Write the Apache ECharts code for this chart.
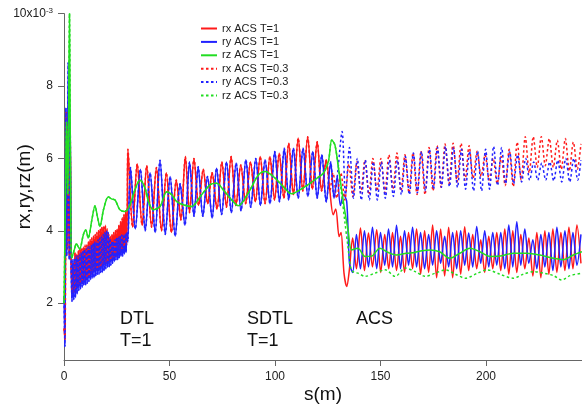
<!DOCTYPE html>
<html><head><meta charset="utf-8">
<script src="https://cdn.jsdelivr.net/npm/echarts@6/dist/echarts.min.js"></script>
<style>html,body{margin:0;padding:0;background:#fff}#c{width:582px;height:412px}</style>
</head><body><div id="c"></div>
<script>
// values in units of 1e-3 m
const xTicks = [0, 50, 100, 150, 200];
const yTicks = [2, 4, 6, 8, 10];
const names = ['rx ACS T=1', 'ry ACS T=1', 'rz ACS T=1', 'rx ACS T=0.3', 'ry ACS T=0.3', 'rz ACS T=0.3'];

const rxSpike = [[0,1.3],[0.5,1.0],[1.0,7.3],[1.5,3.5],[2.0,7.0],[2.5,3.3],[3.0,6.5],[3.4,3.0]];
const rxDTL = [[3.6,3.0],[4.0,2.3],[4.4,3.1],[4.8,2.3],[5.2,3.4],[5.6,2.4],[6.0,3.35],[6.4,2.45],[6.8,3.45],[7.2,2.5],[7.6,3.5],[8.0,2.55],[8.4,3.5],[8.8,2.6],[9.2,3.55],[9.6,2.65],[10.0,3.6],[10.4,2.7],[10.8,3.6],[11.2,2.7],[11.6,3.7],[12.0,2.75],[12.4,3.75],[12.8,2.8],[13.2,3.8],[13.6,2.85],[14.0,3.85],[14.4,2.9],[14.8,3.9],[15.2,2.9],[15.6,3.95],[16.0,2.95],[16.4,4.0],[16.8,3.0],[17.2,4.05],[17.6,3.0],[18.0,4.1],[18.4,3.05],[18.8,4.12],[19.2,3.1],[19.6,4.15],[20.0,3.1],[20.4,4.05],[20.8,3.15],[21.2,3.9],[21.6,3.15],[22.0,3.85],[22.4,3.2],[22.8,3.9],[23.2,3.25],[23.6,3.95],[24.0,3.3],[24.4,4.0],[24.8,3.3],[25.2,4.05],[25.6,3.35],[26.0,4.15],[26.4,3.4],[26.8,4.25],[27.2,3.45],[27.6,4.35],[28.0,3.5],[28.4,4.45],[28.8,3.55],[29.2,4.55],[29.6,3.6],[30.0,4.7]];
const rxSDTL = [[30.3,6.25],[32.5,4.1],[34.7,5.85],[37,4.15],[39.2,5.8],[41.5,4.1],[43.8,5.75],[46.2,4.0],[48.5,5.6],[50.9,3.95],[53.2,5.4],[55.4,4.3],[57.5,6.05],[59.5,4.5],[61.6,6.0],[63.8,4.7],[66,5.7],[68.1,4.75],[70.2,5.6],[72.5,4.6],[74.8,5.9],[77,4.65],[79.2,6.05],[81.5,4.7],[83.8,5.82],[86.1,4.75],[88.4,5.9],[90.7,4.8],[93,6.05],[95.3,4.75],[97.6,6.05],[99.8,4.85],[102,6.14],[104.2,4.9],[106.5,6.42],[108.7,5.0],[111,6.56],[113.2,5.1],[115.5,6.6],[117.7,5.15],[120,6.46],[122.1,5.1],[124.3,5.96],[126,5.1]];
const rxDrop = [[127.6,4.44],[128.8,4.6],[130.4,3.84],[131.3,3.95],[132.7,2.83],[134,2.46],[135.2,2.9]];
const rxACS = [[136.8,3.8],[138.6,2.95],[140.5,4.08],[142.4,2.9],[144.3,3.94],[146.2,3.0],[148.2,4.03],[150.1,2.85],[152,3.9],[153.9,2.95],[155.7,3.95],[157.6,2.9],[159.5,3.85],[161.4,2.85],[163.3,3.95],[165.2,2.95],[167.1,4.05],[169,2.8],[170.9,4.0],[172.8,2.85],[174.7,4.16],[176.6,2.7],[178.5,4.05],[180.4,2.75],[182.3,4.1],[184.2,2.7],[186.1,4.0],[188,2.8],[189.9,4.11],[191.8,2.9],[193.7,3.9],[195.6,2.95],[197.5,3.75],[199.4,2.85],[201.3,3.85],[203.2,2.95],[205.1,3.95],[207,2.9],[208.9,4.05],[210.8,2.8],[212.7,4.0],[214.6,2.85],[216.5,3.9],[218.4,2.95],[220.3,3.8],[222.2,2.75],[224.1,3.95],[226,2.7],[227.9,4.0],[229.8,2.8],[231.7,4.05],[233.6,2.85],[235.5,3.95],[237.4,2.9],[239.3,4.1],[241.2,2.95],[243.1,4.16],[245,3.1]];
const rxACS03 = [[127.5,5.6],[129.3,4.9],[131.2,5.6],[133.1,4.85],[135,5.85],[136.9,4.95],[138.8,5.9],[140.7,5.05],[142.6,5.95],[144.5,5.0],[146.4,6.0],[148.3,5.1],[150.2,6.0],[152.1,5.05],[154,6.1],[155.9,5.15],[157.8,6.15],[159.7,5.1],[161.6,6.1],[163.5,5.05],[165.4,6.15],[167.3,5.0],[169.2,6.2],[171.1,5.0],[173,6.3],[174.9,5.1],[176.8,6.35],[178.7,5.2],[180.6,6.4],[182.5,5.3],[184.4,6.42],[186.3,5.35],[188.2,6.42],[190.1,5.4],[192,6.35],[193.9,5.45],[195.8,6.2],[197.7,5.5],[199.6,6.1],[201.5,5.4],[203.4,6.0],[205.3,5.3],[207.2,6.05],[209.1,5.25],[211,6.25],[212.9,5.22],[214.8,6.45],[216.7,5.4],[218.6,6.6],[220.5,5.6],[222.4,6.6],[224.3,5.75],[226.2,6.6],[228.1,5.8],[230,6.55],[231.9,5.75],[233.8,6.5],[235.7,5.7],[237.6,6.55],[239.5,5.65],[241.4,6.45],[243.3,5.7],[245,6.4]];

const rySpike = [[0,2.2],[0.4,0.8],[0.9,7.4],[1.3,3.3],[2.0,8.65],[2.5,3.2],[2.9,7.0],[3.4,3.0]];
const ryDTL = [[3.8,2.05],[4.2,3.2],[4.6,2.1],[5.0,3.25],[5.4,2.15],[5.8,3.3],[6.2,2.25],[6.6,3.3],[7.0,2.35],[7.4,3.35],[7.8,2.4],[8.2,3.4],[8.6,2.45],[9.0,3.45],[9.4,2.5],[9.8,3.5],[10.2,2.5],[10.6,3.5],[11.0,2.55],[11.4,3.55],[11.8,2.6],[12.2,3.55],[12.6,2.65],[13.0,3.6],[13.4,2.7],[13.8,3.65],[14.2,2.7],[14.6,3.7],[15.0,2.75],[15.4,3.7],[15.8,2.8],[16.2,3.75],[16.6,2.8],[17.0,3.8],[17.4,2.85],[17.8,3.85],[18.2,2.85],[18.6,3.9],[19.0,2.9],[19.4,3.95],[19.8,2.95],[20.2,4.0],[20.6,3.0],[21.0,3.95],[21.4,3.0],[21.8,3.8],[22.2,3.05],[22.6,3.7],[23.0,3.1],[23.4,3.72],[23.8,3.15],[24.2,3.75],[24.6,3.2],[25.0,3.8],[25.4,3.2],[25.8,3.82],[26.2,3.25],[26.6,3.86],[27.0,3.3],[27.4,3.88],[27.8,3.3],[28.2,3.9],[28.6,3.35],[29.0,3.92],[29.4,3.4],[29.8,3.95]];
const rySDTL = [[30.2,3.7],[31.5,5.75],[33.8,4.05],[36.2,5.7],[38.5,4.0],[40.8,5.6],[43.2,3.95],[45.5,5.95],[48,3.9],[50.3,5.5],[52.7,3.85],[55,5.3],[57.3,4.15],[59.5,5.9],[61.6,4.4],[63.6,5.77],[65.8,4.4],[68,5.5],[70.2,4.35],[72.3,5.73],[74.7,4.45],[77,5.9],[79.3,4.5],[81.6,5.87],[83.9,4.55],[86.2,5.96],[88.5,4.65],[90.9,6.0],[93.1,4.7],[95.3,5.96],[97.6,4.75],[99.9,6.19],[102.1,4.8],[104.4,6.28],[106.5,4.85],[108.7,6.28],[111,4.9],[113.3,6.28],[115.6,4.95],[117.9,6.19],[120,4.9],[122.2,6.1],[124.3,4.8],[126.4,5.9],[128,4.9],[129.5,5.5]];
const ryDrop = [[131,4.7],[132.5,5.0],[134,4.8],[135.3,3.1]];
const ryACS = [[136.8,2.85],[138.6,3.9],[140.5,2.95],[142.4,4.0],[144.3,3.0],[146.2,4.1],[148.2,2.95],[150,3.95],[152,3.05],[153.8,4.05],[155.7,3.0],[157.6,4.15],[159.5,2.95],[161.4,4.0],[163.3,3.05],[165.2,4.1],[167.1,3.0],[169,3.95],[170.9,2.95],[172.8,3.9],[174.7,3.05],[176.6,4.0],[178.5,3.1],[180.4,3.85],[182.3,3.0],[184.2,3.95],[186.1,2.95],[188,4.0],[189.9,3.05],[191.8,3.94],[193.7,3.0],[195.6,4.12],[197.5,3.1],[199.4,4.0],[201.3,3.0],[203.2,3.95],[205.1,3.05],[207,3.95],[208.9,2.95],[210.8,4.16],[212.7,3.0],[214.6,4.25],[216.5,3.05],[218.4,4.05],[220.3,3.1],[222.2,3.75],[224.1,2.95],[226,3.9],[227.9,3.0],[229.8,3.95],[231.7,2.9],[233.6,4.1],[235.5,3.0],[237.4,4.0],[239.3,2.95],[241.2,3.95],[243.1,3.05],[245,3.9]];
const ryACS03 = [[131.8,6.74],[133.4,5.0],[135.3,6.3],[137.2,4.9],[139,6.0],[140.9,4.85],[142.8,5.96],[144.7,4.85],[146.6,5.9],[148.5,4.85],[150.4,5.9],[152.3,4.9],[154.2,5.95],[156.1,4.95],[158,5.95],[159.9,5.0],[161.8,6.05],[163.7,5.0],[165.6,6.15],[167.5,5.05],[169.4,6.19],[171.3,5.1],[173.2,6.25],[175.1,5.15],[177,6.3],[178.9,5.2],[180.8,6.33],[182.7,5.22],[184.6,6.3],[186.5,5.2],[188.4,6.25],[190.3,5.15],[192.2,6.2],[194.1,5.1],[196,6.2],[197.9,5.1],[199.8,6.25],[201.7,5.15],[203.6,6.33],[205.5,5.25],[207.4,6.3],[209.3,5.3],[211.2,6.2],[213.1,5.3],[215,6.1],[216.9,5.35],[218.8,6.0],[220.7,5.4],[222.6,5.9],[224.5,5.4],[226.4,5.87],[228.3,5.4],[230.2,5.9],[232.1,5.38],[234,5.95],[235.9,5.35],[237.8,6.0],[239.7,5.35],[241.6,6.0],[243.5,5.4],[245,5.95]];

const rzMain = [[0,2.0],[0.6,4.5],[1.2,7.0],[1.8,5.0],[2.6,10.0],[3.1,5.5],[3.65,3.24],[5.0,3.5],[5.8,3.64],[7.4,3.5],[9.2,3.9],[10.3,4.02],[11.5,3.8],[13.2,4.3],[14.7,4.69],[15.8,4.4],[17,4.12],[18.8,4.6],[21,4.94],[22.5,4.88],[24.2,4.85],[26.5,4.58],[28.9,4.53],[31.3,4.72],[33.6,5.13],[36,5.4],[38.4,5.18],[40,4.81],[42.3,4.58],[45.5,4.67],[48.7,5.08],[51,5.0],[53.4,4.81],[56.5,4.72],[60.5,4.67],[64.5,4.94],[69.2,5.27],[72.4,5.31],[75.5,5.13],[79.5,4.85],[82.6,4.69],[87.3,5.04],[92.1,5.54],[95.3,5.64],[99.2,5.5],[103.9,5.22],[107.9,5.02],[111.8,5.13],[116.6,5.31],[119.8,5.45],[122.9,5.59],[125.3,5.91],[126.9,6.51],[128.4,6.37],[130,5.77]];
const rzACS = [[131.6,5.13],[133.2,4.5],[134.7,4.0],[136.3,3.47],[139.3,3.52],[142.7,3.29],[145.8,3.3],[149.7,3.52],[153.7,3.4],[157.6,3.33],[162.3,3.38],[166.2,3.4],[169.7,3.45],[173.5,3.47],[178,3.42],[182.9,3.24],[187.6,3.38],[192.4,3.52],[197.1,3.42],[201.9,3.29],[206.6,3.3],[212.9,3.38],[219.3,3.38],[225.6,3.33],[231.9,3.24],[236.6,3.2],[241.4,3.33],[245.5,3.42]];
const rzACS03 = [[131.6,5.0],[133,4.3],[134.5,3.6],[136,2.95],[137.5,2.85],[139.3,2.83],[142.7,2.74],[147.4,2.83],[152.2,2.92],[157,2.74],[161.7,2.97],[166.5,2.87],[171.3,2.74],[176,2.83],[180.8,2.92],[185.5,2.8],[190.3,2.69],[196,2.83],[200.7,2.92],[206.6,2.8],[212.9,2.69],[217.7,2.8],[222.4,2.87],[227.2,2.83],[232,2.76],[235.9,2.64],[239.8,2.76],[245.5,2.83]];

const rxT1 = [].concat(rxSpike, rxDTL, rxSDTL, rxDrop, rxACS);
const ryT1 = [].concat(rySpike, ryDTL, rySDTL, ryDrop, ryACS);
const rzT1 = [].concat(rzMain, rzACS);
const rxT03 = [].concat(rxSpike, rxDTL, rxSDTL, rxACS03);
const ryT03 = [].concat(rySpike, ryDTL, rySDTL, ryACS03);
const rzT03 = [].concat(rzMain, rzACS03);

const RED = '#ff1a1a', BLUE = '#2222ff', GREEN = '#22dd22';
const FONT = '"Liberation Sans", Helvetica, Arial, sans-serif';

function line(name, data, color, dashed, z) {
  return {
    name, type: 'line', data, z, symbol: 'none', smooth: 0.3, clip: true,
    lineStyle: { color, width: 1.5, type: dashed ? [2.5, 2.5] : 'solid' },
    itemStyle: { color }
  };
}

const chart = echarts.init(document.getElementById('c'));
chart.setOption({
  animation: false,
  textStyle: { fontFamily: FONT },
  grid: { left: 64, right: 0, top: 13.6, bottom: 52, containLabel: false, outerBoundsMode: 'none' },
  xAxis: {
    type: 'value', min: 0, max: 245.5,
    name: 's(m)', nameLocation: 'middle', nameGap: 25, nameMoveOverlap: false,
    nameTextStyle: { fontSize: 19, color: '#111', fontFamily: FONT },
    axisLine: { lineStyle: { color: '#666', width: 1 } },
    axisTick: { customValues: xTicks, length: 6, lineStyle: { color: '#666' } },
    axisLabel: { customValues: xTicks, margin: 11, fontSize: 12, color: '#222', fontFamily: FONT },
    splitLine: { show: false }
  },
  yAxis: {
    type: 'value', min: 0.43, max: 10,
    name: 'rx,ry,rz(m)', nameLocation: 'middle', nameGap: 30, nameMoveOverlap: false,
    nameTextStyle: { fontSize: 19, color: '#111', fontFamily: FONT },
    axisLine: { show: true, lineStyle: { color: '#666', width: 1 } },
    axisTick: { show: true, customValues: yTicks, length: 6, lineStyle: { color: '#666' } },
    axisLabel: {
      customValues: yTicks, margin: 11, fontSize: 12, color: '#222', fontFamily: FONT,
      formatter: v => v === 10 ? '{a|10x10}{b|-3}' : String(v),
      rich: {
        a: { fontSize: 12, color: '#222', fontFamily: FONT, lineHeight: 14 },
        b: { fontSize: 8, color: '#222', fontFamily: FONT, lineHeight: 8, verticalAlign: 'top' }
      }
    },
    splitLine: { show: false }
  },
  legend: {
    data: names, orient: 'vertical', left: 200, top: 23, padding: 0,
    itemWidth: 16, itemHeight: 0.5, itemGap: 2.4,
    itemStyle: { opacity: 0 },
    textStyle: { fontSize: 11, color: '#222', fontFamily: FONT }
  },
  graphic: [
    { type: 'text', left: 120, top: 308, style: { text: 'DTL\nT=1', font: '18px ' + FONT, fill: '#111', lineHeight: 22 } },
    { type: 'text', left: 247, top: 308, style: { text: 'SDTL\nT=1', font: '18px ' + FONT, fill: '#111', lineHeight: 22 } },
    { type: 'text', left: 356, top: 308, style: { text: 'ACS', font: '18px ' + FONT, fill: '#111', lineHeight: 22 } }
  ],
  series: [
    line(names[0], rxT1, RED, false, 2),
    line(names[1], ryT1, BLUE, false, 3),
    line(names[3], rxT03, RED, true, 4),
    line(names[4], ryT03, BLUE, true, 5),
    line(names[2], rzT1, GREEN, false, 6),
    line(names[5], rzT03, GREEN, true, 7)
  ]
});
</script></body></html>
